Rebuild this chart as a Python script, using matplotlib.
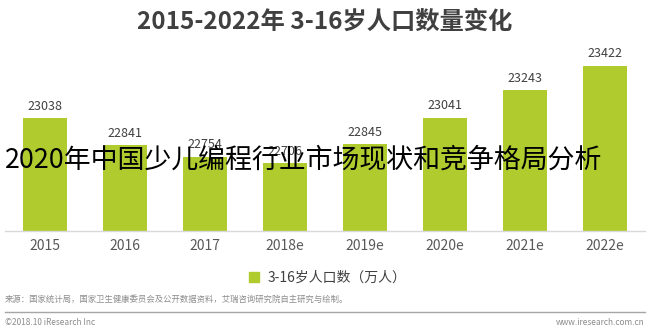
import matplotlib
matplotlib.use('Agg')
import matplotlib.pyplot as plt
from matplotlib.lines import Line2D

plt.rcParams['font.family'] = ['Noto Sans CJK SC', 'DejaVu Sans']

years = ['2015', '2016', '2017', '2018e', '2019e', '2020e', '2021e', '2022e']
population = [23038, 22841, 22754, 22706, 22845, 23041, 23243, 23422]

title = '2015-2022年 3-16岁人口数量变化'
legend_label = '3-16岁人口数（万人）'
overlay = '2020年中国少儿编程行业市场现状和竞争格局分析'
source = '来源：国家统计局，国家卫生健康委员会及公开数据资料，艾瑞咨询研究院自主研究与绘制。'
copyright_txt = '©2018.10 iResearch Inc'
site = 'www.iresearch.com.cn'

bar_color = '#afcb2e'

fig = plt.figure(figsize=(6.5, 3.32), dpi=100)
ax = fig.add_axes([0.008, 0.3042, 0.984, 0.5753])

x = range(len(years))
bars = ax.bar(x, population, width=0.55, color=bar_color, zorder=2)
ax.set_xlim(-0.5, len(years) - 0.5)
ax.set_ylim(22210, 23612)

for xi, v in zip(x, population):
    ax.text(xi, v + 40, str(v), ha='center', va='bottom', fontsize=9, color='#404040')

for s in ['top', 'right', 'left']:
    ax.spines[s].set_visible(False)
ax.spines['bottom'].set_color('#d9d9d9')
ax.spines['bottom'].set_linewidth(1)
ax.set_yticks([])
ax.set_xticks(list(x))
ax.set_xticklabels(years, fontsize=10, color='#595959')
ax.tick_params(axis='x', length=0, pad=6)

fig.text(0.5, 0.935, title, ha='center', va='center', fontsize=17.5,
         fontweight='bold', color='#404040')

# legend
fig.legend(handles=[Line2D([], [], marker='s', linestyle='none', markersize=7,
                           color=bar_color, label=legend_label)],
           loc='center', bbox_to_anchor=(0.497, 0.163), frameon=False,
           fontsize=10, handletextpad=0.0, labelcolor='#404040')

# footer
fig.text(0.008, 0.097, source, ha='left', va='center', fontsize=6, color='#8c8c8c')
fig.add_artist(Line2D([0.008, 0.992], [0.06, 0.06], color='#a6a6a6', lw=1))
fig.text(0.008, 0.028, copyright_txt, ha='left', va='center', fontsize=6, color='#8c8c8c')
fig.text(0.992, 0.028, site, ha='right', va='center', fontsize=6, color='#8c8c8c')

# overlaid watermark title
fig.text(0.008, 0.518, overlay, ha='left', va='center', fontsize=19.4, color='black', zorder=10)

fig.savefig('out.png', dpi=100)
